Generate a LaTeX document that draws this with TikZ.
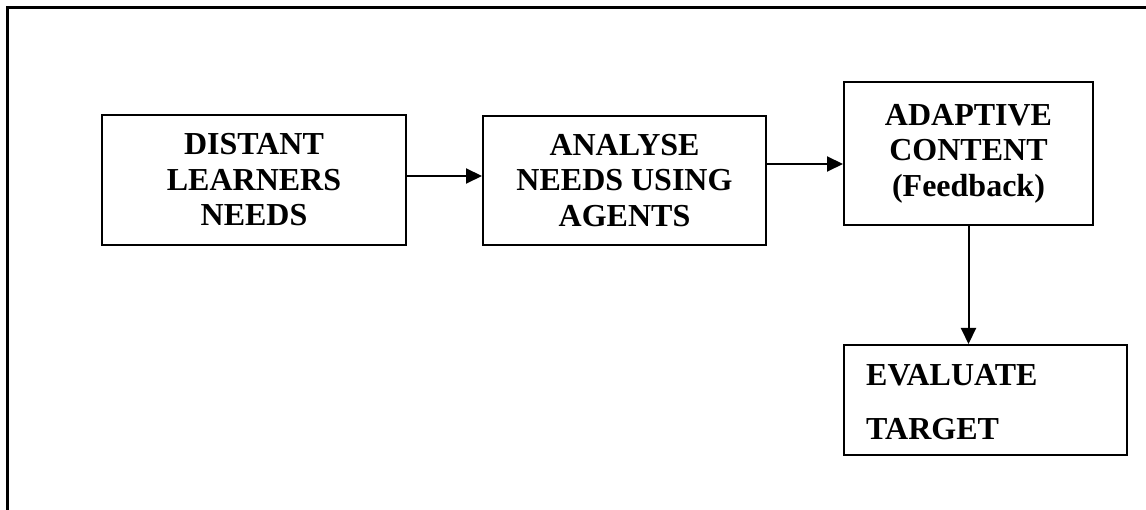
\documentclass[tikz,border=0pt]{standalone}
\usepackage{fontspec}
\setmainfont{Liberation Serif}
\usetikzlibrary{arrows.meta}
\begin{document}
\begin{tikzpicture}[x=1pt,y=-1pt,
  stage/.style={draw=black,line width=2pt,inner sep=0pt,align=center,
    font=\bfseries\fontsize{32}{35.5}\selectfont},
  flow/.style={line width=2pt,-{Triangle[length=16pt,width=15pt]}},
  frame/.style={line width=3pt,line cap=rect}]
  \useasboundingbox (0,0) rectangle (1146,510);
  % open frame: top and left sides only
  \draw[frame] (1146,8) -- (7,8) -- (7,510);
  % process stages
  \node[stage,minimum width=304pt,minimum height=130pt] (needs) at (254,180)
    {DISTANT\\LEARNERS\\NEEDS};
  \node[stage,minimum width=283pt,minimum height=129pt] (analyse) at (624.5,180.5)
    {ANALYSE\\NEEDS USING\\AGENTS};
  \node[stage,minimum width=249pt,minimum height=143pt] (adaptive) at (968.5,153.5)
    {ADAPTIVE\\CONTENT\\(Feedback)};
  \node[stage,minimum width=283pt,minimum height=110pt] (evaluate) at (985.5,400) {};
  \node[font=\bfseries\fontsize{32}{54}\selectfont,align=left,anchor=west,inner sep=0pt]
    (evaltext) at (866,402) {EVALUATE\\TARGET};
  % connectors
  \draw[flow] (needs.east |- 0,176) -- (analyse.west |- 0,176);
  \draw[flow] (analyse.east |- 0,164) -- (adaptive.west |- 0,164);
  \draw[flow] (adaptive.south) -- (evaluate.north -| adaptive.south);
\end{tikzpicture}
\end{document}
